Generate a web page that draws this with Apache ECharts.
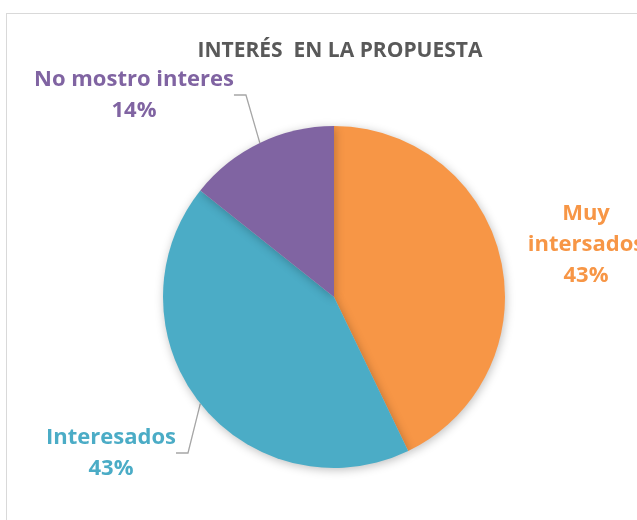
<!DOCTYPE html>
<html>
<head>
<meta charset="utf-8">
<script src="https://cdn.jsdelivr.net/npm/echarts@6/dist/echarts.min.js"></script>
<style>
  body { margin: 0; background: #fff; overflow: hidden; }
  #frame { position: absolute; left: 6px; top: 13px; width: 700px; height: 600px; border: 1px solid #d9d9d9; }
  #main { position: absolute; left: 0; top: 0; width: 637px; height: 520px; }
</style>
</head>
<body>
<div id="frame"></div>
<div id="main"></div>
<script>
// datos del gráfico
const categorias = ['Muy intersados', 'Interesados', 'No mostro interes']
const valores = [3, 3, 1]
const colores = ['#F79646', '#4BACC6', '#8064A2']
// centro de cada etiqueta (posicion del texto, no de la marca)
const posEtiquetas = [[586, 245], [111, 453], [134, 95]]

const myChart = echarts.init(document.getElementById('main'))
const option = {
  animation: false,
  title: {
    text: 'INTERÉS  EN LA PROPUESTA',
    left: 335,
    top: 36,
    textAlign: 'center',
    textStyle: { fontFamily: 'Open Sans', fontWeight: 'bold', fontSize: 21, color: '#595959' }
  },
  series: [
    {
      type: 'pie',
      center: [334, 297],
      radius: 171,
      startAngle: 90,
      clockwise: true,
      itemStyle: {
        borderWidth: 0,
        shadowBlur: 10,
        shadowColor: 'rgba(0,0,0,0.25)',
        shadowOffsetX: 1,
        shadowOffsetY: 2
      },
      label: {
        show: true,
        position: 'outside',
        overflow: 'none',
        fontFamily: 'Open Sans',
        fontWeight: 'bold',
        fontSize: 22,
        lineHeight: 31,
        align: 'center',
        formatter: p => (p.dataIndex === 0 ? p.name.replace(' ', '\n') : p.name) + '\n' + Math.round(p.percent) + '%'
      },
      labelLine: {
        show: true,
        length: 20,
        length2: 12,
        lineStyle: { color: '#a6a6a6', width: 1.3 }
      },
      labelLayout: p => ({
        x: posEtiquetas[p.dataIndex][0],
        y: posEtiquetas[p.dataIndex][1],
        align: 'center',
        verticalAlign: 'middle'
      }),
      data: categorias.map((c, i) => ({
        name: c,
        value: valores[i],
        itemStyle: { color: colores[i] },
        label: { color: colores[i] },
        labelLine: { show: i !== 0 }
      }))
    }
  ]
}
myChart.setOption(option)
</script>
</body>
</html>
